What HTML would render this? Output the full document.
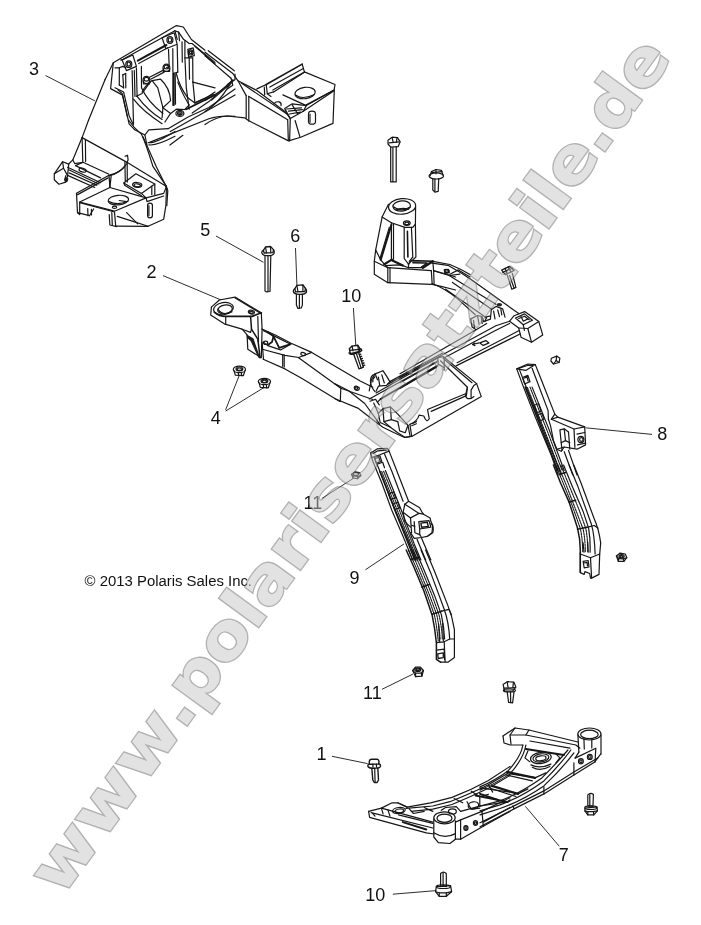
<!DOCTYPE html>
<html lang="de">
<head>
<meta charset="utf-8">
<title>Polaris Ersatzteile</title>
<style>
html,body{margin:0;padding:0;background:#fff;}
body{width:701px;height:925px;overflow:hidden;position:relative;font-family:"Liberation Sans",sans-serif;}
svg{position:absolute;left:0;top:0;display:block;filter:grayscale(1);}
.art{fill:none;stroke:#161616;stroke-width:1.2;stroke-linejoin:round;stroke-linecap:round;}
.lbl{font-family:"Liberation Sans",sans-serif;font-size:18px;fill:#111;}
.cpy{font-family:"Liberation Sans",sans-serif;font-size:14.9px;fill:#111;}
.ldr{stroke:#151515;stroke-width:.9;fill:none;}
.wm{font-family:"DejaVu Sans","Liberation Sans",sans-serif;font-weight:bold;font-size:64px;}
</style>
</head>
<body>
<svg id="dia" width="701" height="925" viewBox="0 0 701 925">
<rect width="701" height="925" fill="#fff"/>
<g id="art" class="art">
<path d="M 88.6 120 L 82.1 137.6 72.8 159.9 68.7 164"/>
<path d="M 82.1 137.6 L 126.6 162.1 166.5 186.4"/>
<path d="M 82.1 137.6 L 82.8 162.3"/>
<path d="M 85.4 140 L 85.6 161.5"/>
<path d="M 72.8 159.9 L 74.7 163.6 83 162.3 109 174.2"/>
<path d="M 75.6 165.6 L 83 162.3"/>
<path d="M 75.6 165.6 L 100.6 177.9"/>
<path d="M 125.1 156.3 L 127.5 155.2 128.1 159.9 126.8 162.7"/>
<path d="M 124.9 162.3 L 125.3 181.2"/>
<path d="M 127.2 162.3 L 127.3 182.1"/>
<path d="M 126.6 163.8 Q 120.1 173.4 109.2 175.6"/>
<path d="M 124.7 166.4 Q 119.2 172.9 110.3 174.9"/>
<path d="M 62.6 161.7 L 68.7 164.1 67.6 175.6 65.8 182.1 58.9 184.2 54.3 179.7 54.3 173.8 62.6 161.7 Z"/>
<path d="M 62.6 161.7 L 63.5 168.2 54.3 173.8"/>
<path d="M 63.5 168.2 L 67.6 175.6"/>
<path d="M 65.8 175.6 L 64.7 179.7 66.9 181.2"/>
<ellipse cx="66.3" cy="179.7" rx="1.3" ry="1.9" transform="rotate(20 66.3 179.7)"/>
<path d="M 67.6 167.3 L 100.6 182.7"/>
<path d="M 68.7 169.7 L 98.8 184"/>
<path d="M 68.2 175.6 L 94.7 187.5"/>
<path d="M 69.1 172.9 L 96.9 185.3"/>
<ellipse cx="82.6" cy="170.1" rx="3.7" ry="1.9" transform="rotate(15 82.6 170.1)"/>
<path d="M 76.5 193.3 L 109 175.3 109.9 187.1"/>
<path d="M 77.6 194.6 L 108.1 177.9"/>
<path d="M 76.5 193.3 L 77.5 212.7 79.7 214.6 79.7 202"/>
<path d="M 79.7 202 L 109.9 187.5 146.1 197.9 114.5 211.2 79.7 202 Z"/>
<path d="M 109.9 187.5 L 111.2 175.6"/>
<ellipse cx="118.4" cy="200.1" rx="10.2" ry="4.8" transform="rotate(-5 118.4 200.1)"/>
<path d="M 109 201.6 Q 117.3 205.7 127.9 201.2"/>
<path d="M 119.2 200.5 L 126.6 201.6"/>
<ellipse cx="114.5" cy="207.2" rx="2.2" ry="1.1"/>
<path d="M 79.7 202.7 L 114.5 212 115.7 226.1"/>
<path d="M 77.5 212.7 L 89.5 215.7"/>
<path d="M 87.7 208.6 L 88 215.7"/>
<path d="M 91.4 209.4 L 91.5 215"/>
<path d="M 89.5 215.7 L 93.6 209"/>
<path d="M 109.2 214.6 L 109.9 225 116.6 226.6"/>
<path d="M 111.8 212.7 L 112.3 225"/>
<path d="M 146.1 197.9 L 163.7 193.4 166.5 186.4"/>
<path d="M 166.5 186.4 L 165.9 205.3 163.7 219.2 148.1 226.3 116 226.1"/>
<path d="M 165.2 185.3 L 167.8 190.5 166.8 205.7"/>
<path d="M 147.6 205.3 Q 147.6 203.1 150 203.1 Q 152.4 203.1 152.4 205.3 L 152.4 215.5 Q 152.4 217.9 150 217.9 Q 147.6 217.9 147.6 215.5 Z"/>
<path d="M 148.9 205.7 L 148.9 215.5"/>
<path d="M 117.3 216.4 L 132.2 221.1 148.1 226.3"/>
<path d="M 126.6 212.7 L 137.7 223.9"/>
<path d="M 146.1 197.9 L 147 201.6 163.7 196"/>
<path d="M 123.8 183.1 L 135.9 173.8 154.8 184 141.4 193.4 123.8 183.1 Z"/>
<ellipse cx="137.2" cy="184.9" rx="4.6" ry="2.4" transform="rotate(5 137.2 184.9)"/>
<ellipse cx="137.2" cy="185.3" rx="3.2" ry="1.5" transform="rotate(5 137.2 185.3)"/>
<path d="M 154.8 184 L 154.8 194.6"/>
<path d="M 151.8 186 L 151.8 194.6"/>
<path d="M 141.4 193.4 L 146.1 197.9"/>
<path d="M 123.8 183.1 L 124.7 185.3 141.4 195.7"/>
<path d="M 128.5 120 Q 134 128.3 141.4 134.1 Q 146.1 144.1 152.9 166.4 L 166.5 186.4"/>
<path d="M 142.9 136.7 Q 148.9 149.7 156.3 166.7 L 167.4 189"/>
<path d="M 148.1 142.6 Q 154.4 144.1 175 131.5"/>
<path d="M 148.9 144.9 Q 156.3 146 175 136.3"/>
<path d="M 105 79.7 L 113.3 62.7 176.4 25.6 183.3 27 191.4 39.5 205 50.2"/>
<path d="M 113.3 62.7 L 110.6 88.6 122.6 95.1 129.1 123.9 134.7 129.8 144.9 135 146.9 145"/>
<path d="M 144.9 135 L 148.8 129.8 168.1 128.7"/>
<path d="M 235 74.2 L 235 79.7 227.4 84.5"/>
<path d="M 233 79.7 L 208.9 101.6 192.2 113.1"/>
<path d="M 229.3 84.9 L 211.6 100.1"/>
<path d="M 168.1 128.7 L 188.5 116.8 208.9 107.5 235 89"/>
<path d="M 170.3 131.6 L 235 94.9"/>
<path d="M 149.5 142.4 L 208.9 118.7 Q 220 115 235 116.4"/>
<path d="M 169.9 145 L 182.9 135.3"/>
<path d="M 120.7 60.1 L 123 59.2 174.9 30.7 178.6 32.1 183.5 39.3 189.2 43.5"/>
<path d="M 137.8 60.7 L 166.4 45" stroke-width="2"/>
<path d="M 138.7 63.5 L 167.8 47.8"/>
<path d="M 122.1 60 L 132.8 55 136.4 66.4 126.4 70.6 122.1 60 Z"/>
<ellipse cx="128.8" cy="64.2" rx="3" ry="3.3"/>
<ellipse cx="128.8" cy="64.2" rx="1.7" ry="2"/>
<path d="M 162.1 37.8 L 174.2 32.8 177.2 44.3 165.8 48.7 162.1 37.8 Z"/>
<ellipse cx="169.9" cy="40" rx="3" ry="3.3"/>
<ellipse cx="169.9" cy="40" rx="1.7" ry="2"/>
<path d="M 174.9 30.7 L 177.2 39.3"/>
<path d="M 178.6 32.1 L 179.5 40.7"/>
<path d="M 119.3 67.8 L 119.3 84.9"/>
<path d="M 122.8 74.9 L 123.6 87.8"/>
<path d="M 125.7 73.5 L 125.8 87.8"/>
<path d="M 119.3 67.8 L 122.8 66.4 125.7 67.8"/>
<path d="M 122.8 74.9 L 125.7 73.5"/>
<path d="M 115 67.8 L 119.3 67.8"/>
<path d="M 115 87.8 L 123.6 92 129.3 116.3 133.5 124.9"/>
<path d="M 117.9 89.9 L 122.1 93.5 127.3 116.3"/>
<path d="M 119.3 84.9 L 123.6 87.8"/>
<path d="M 132.1 70.6 L 132.8 96.3 133.5 123.4"/>
<path d="M 136.4 67.8 L 137.1 96.3"/>
<path d="M 141.4 66.4 L 141.5 87.8"/>
<path d="M 134.3 70.6 L 135 96.3"/>
<path d="M 168.5 49.3 L 169.2 66.4"/>
<path d="M 172.8 48.5 L 172.9 72.1"/>
<path d="M 177.2 45 L 177.8 72.1"/>
<path d="M 184.9 40.7 L 184.9 57.8 186.3 87.8 189.2 109.2"/>
<path d="M 182 41.8 L 182.3 62.1"/>
<path d="M 192.7 57.8 L 192.9 82.1"/>
<path d="M 189.2 57.8 L 189.5 79.2"/>
<ellipse cx="146.4" cy="79.9" rx="3.4" ry="3.6"/>
<ellipse cx="146.4" cy="79.2" rx="2.3" ry="1.9"/>
<path d="M 143.2 80.9 L 143.5 83.8 149.5 83.8 149.8 80.9"/>
<ellipse cx="166.4" cy="67.8" rx="3.4" ry="3.6"/>
<ellipse cx="166.4" cy="67.1" rx="2.3" ry="1.9"/>
<path d="M 163.2 68.7 L 163.5 71.5 169.5 71.5 169.8 68.7"/>
<path d="M 149.5 77.2 L 163.5 70.1"/>
<path d="M 150.7 79.2 L 164.2 72.1"/>
<path d="M 142.1 92 Q 145.7 84.9 152.1 80.6 L 160.6 79.2 Q 169.9 87.8 170.6 100.6 L 162.9 107.7 L 162.1 117.7"/>
<path d="M 150.1 82.1 L 142.1 93.5 136.4 96.3"/>
<path d="M 152.1 80.6 L 157.8 87.8 162.9 107.7"/>
<path d="M 173.5 73.5 L 173.5 104.9" stroke-width="2.4"/>
<path d="M 175.2 74.2 L 175.5 104.2"/>
<path d="M 177.8 72.1 L 173.5 73.5"/>
<path d="M 169.2 66.4 L 166.4 67.8"/>
<path d="M 176.3 73.5 Q 179.2 86.3 187.8 97.8 L 194.9 102.9 L 206.3 97.8 L 215 92"/>
<path d="M 177.8 82.1 Q 183.5 96.3 189.2 104.9 L 184.9 109.5"/>
<path d="M 192.9 82.1 L 215 87.8"/>
<path d="M 192.9 82.1 L 194.9 102.9"/>
<path d="M 194.9 102.9 L 213.4 94.3"/>
<path d="M 184.9 57.8 L 192.7 57.8"/>
<path d="M 133.5 99.2 Q 143.5 112 162.1 123.7"/>
<path d="M 137.1 96.3 Q 147.8 110.6 162.1 119.4"/>
<path d="M 141.5 87.8 Q 147.8 102 162.9 113.4"/>
<path d="M 162.9 107.7 L 170.6 113.4 164.9 122"/>
<path d="M 170.6 113.4 L 176.3 109.2 184.9 109.5"/>
<ellipse cx="179.9" cy="113.4" rx="4" ry="3.1"/>
<ellipse cx="179.9" cy="113.4" rx="2.3" ry="1.7"/>
<ellipse cx="179.9" cy="113.7" rx="1.1" ry="0.9"/>
<path d="M 189.2 43.5 L 192 43.5 215 62.4"/>
<path d="M 194.9 46.4 L 215 63.8"/>
<ellipse cx="190.6" cy="52.4" rx="2.3" ry="2.6"/>
<path d="M 187.8 49.3 L 193.2 47.8 194.3 55.7 188.6 57.2 187.8 49.3 Z"/>
<ellipse cx="190.6" cy="52.4" rx="1.1" ry="1.3"/>
<path d="M 186.3 109.2 L 215 94.9" stroke-width="1.8"/>
<path d="M 205 52.2 L 232.8 73.4 238 80.8 256.2 90.1 285.9 112.3 290.3 118.6"/>
<path d="M 208.3 50.7 L 234.3 70.8"/>
<path d="M 205 55.9 L 231 78.2"/>
<path d="M 205 111.6 Q 218 103.8 228.2 87.1 L 232.8 80.8"/>
<path d="M 205 100.4 Q 221.7 91.7 231.9 81.2"/>
<path d="M 205 124.6 Q 216.1 116.8 227.3 116 L 244.9 117.9 L 248.8 120.8"/>
<path d="M 231 78.2 L 232.8 85.2 227.3 88.9"/>
<path d="M 246.2 95.6 L 246.2 117.9"/>
<path d="M 248.8 96.4 L 248.8 120.8"/>
<path d="M 238 80.8 L 246.2 95.6"/>
<path d="M 248.8 96.4 L 287.7 119.7"/>
<path d="M 241.3 83 L 287.7 114.5"/>
<path d="M 248.8 120.8 L 288.5 140.9 300.7 137.2 333 123.4 334.3 90.1"/>
<path d="M 266.2 84.5 L 302.2 64.1" stroke-width="1.6"/>
<path d="M 269.9 87.1 L 303.3 68.5"/>
<path d="M 272.9 90.1 L 304.4 71.9"/>
<path d="M 302.2 64.1 L 304.4 71.9 335 84.5 334.1 90.1 306.3 105.6 282.9 94.9"/>
<path d="M 273.6 91.9 L 304.4 72.3"/>
<path d="M 306.3 104.9 L 334.1 90.1"/>
<ellipse cx="305.1" cy="93" rx="10.2" ry="5.6" transform="rotate(-8 305.1 93)"/>
<path d="M 295.9 95.2 Q 303.3 100.1 314.4 94.5"/>
<path d="M 256.9 88.9 L 266.2 84.5 267.3 93.8 271 96.4"/>
<path d="M 264.3 87.1 L 264.7 94.9"/>
<path d="M 267.3 93.8 L 273.6 91.9"/>
<path d="M 274 103.8 Q 275.5 101.2 279.2 101.9 Q 281.8 103 281 105.6"/>
<path d="M 284.7 108.6 L 292.2 103.8 306.3 105.6 303.3 111.2 290.3 118.6 284.7 108.6 Z"/>
<path d="M 286.6 109 L 301.4 107.9"/>
<path d="M 288.5 111.2 L 302.4 109.7"/>
<path d="M 289.4 114 L 300.5 112.1"/>
<path d="M 292.2 104.9 L 297.7 114"/>
<path d="M 290.3 118.6 L 289.6 140.9"/>
<path d="M 287.7 119.7 L 288.3 140.1"/>
<path d="M 303.3 111.2 L 333.3 91.2"/>
<path d="M 295.1 120.5 L 300 137.2"/>
<path d="M 308.5 114 Q 308.5 111.2 312 111.2 Q 315.5 111.2 315.5 114 L 315.5 121.4 Q 315.5 124.2 312 124.2 Q 308.5 124.2 308.5 121.4 Z"/>
<path d="M 310 114 L 310 122.3"/>
<path d="M 105 79.7 L 88.6 120"/>
<path d="M 211.4 307.1 L 219.3 300 235 297.1 261.3 312.8 262.1 329.2"/>
<path d="M 235.2 298.1 L 260.9 313.5"/>
<path d="M 211.4 307.1 L 210.7 315 225 324.2 242.1 329.2 247.1 334.9 247.8 349.2 261.3 357.8 262.1 329.2"/>
<ellipse cx="223.5" cy="308.6" rx="10" ry="6" transform="rotate(-10 223.5 308.6)"/>
<ellipse cx="225" cy="309.3" rx="7.4" ry="4.3" transform="rotate(-10 225 309.3)"/>
<path d="M 218.1 309.3 Q 222.8 316.4 232.1 311.8"/>
<path d="M 225.7 316.4 L 225.7 324.1"/>
<path d="M 214.3 312.1 Q 219.3 316.4 225.7 316.4 L 252.1 316.4 L 261.3 312.8" stroke-width="1.7"/>
<ellipse cx="251.4" cy="312.1" rx="3.1" ry="1.9" transform="rotate(12 251.4 312.1)"/>
<ellipse cx="251.4" cy="312.3" rx="1.9" ry="1" transform="rotate(12 251.4 312.3)"/>
<path d="M 250.6 316.4 L 251.5 329.2 257.8 339.2 260.1 357.8" stroke-width="1.5"/>
<path d="M 257.8 316.4 L 258.5 342.1"/>
<path d="M 246.4 334.2 L 253.5 338.5 L 260.1 357.8 L 258.4 357.8 L 250.6 340.9 L 246.9 337.8 Z" fill="#1c1c1c" stroke="none"/>
<path d="M 242.1 329.2 L 250.6 332.4 251.5 329.2"/>
<path d="M 263.5 330.7 L 272 334.9 290.6 344.2 280.6 349.9 267.8 345.6 263.5 342.1"/>
<path d="M 267.8 332.1 L 273.5 336.4 272 342.1 267.8 344.9" stroke-width="1.8"/>
<path d="M 273.5 336.4 L 279.2 347.8 290.6 344.2" stroke-width="1.8"/>
<ellipse cx="265.6" cy="342.8" rx="2.1" ry="1.7"/>
<path d="M 262.1 342.1 L 263.5 359.2"/>
<path d="M 284.2 354.9 L 284.2 367"/>
<path d="M 282.7 354.6 L 282.7 366.3"/>
<path d="M 262 329.1 L 275.3 335 291.1 343.2 311.7 352.4 339.8 368.9 360.2 381 372.8 387.3"/>
<path d="M 263.2 359.2 L 285 368.9 302 378.6 339.8 401.4"/>
<path d="M 263.2 349.5 L 285 355.3 298.6 357.5 311.7 352.4"/>
<path d="M 298.6 357.8 L 340.8 388.3 372.8 399.5"/>
<path d="M 340.8 388.3 L 340.3 401.4"/>
<ellipse cx="303.2" cy="354.1" rx="2.4" ry="1.5" transform="rotate(15 303.2 354.1)"/>
<ellipse cx="357.1" cy="388.6" rx="2.2" ry="1.7"/>
<path d="M 375 374.2 Q 370.4 375.2 370.4 381.5 Q 370.9 386.9 375 391.7"/>
<path d="M 375 376.7 Q 372.3 378.4 372.8 382"/>
<ellipse cx="239.4" cy="369.4" rx="6.1" ry="3.2"/>
<ellipse cx="239.4" cy="368.9" rx="3.4" ry="1.9"/>
<ellipse cx="239.4" cy="369.2" rx="2.2" ry="1.2"/>
<path d="M 234.1 370.6 L 235.3 375.2 243.3 375.7 245 370.6"/>
<path d="M 238.2 372.3 L 238.7 375.7"/>
<path d="M 241.4 372.3 L 241.6 375.7"/>
<ellipse cx="264.4" cy="381.5" rx="6.1" ry="3.2"/>
<ellipse cx="264.4" cy="381" rx="3.4" ry="1.9"/>
<ellipse cx="264.4" cy="381.3" rx="2.2" ry="1.2"/>
<path d="M 259.1 382.7 L 260.3 387.3 268.3 387.8 270 382.7"/>
<path d="M 263.2 384.4 L 263.7 387.8"/>
<path d="M 266.4 384.4 L 266.6 387.8"/>
<path d="M 388 140.2 L 392.1 137.2 397.5 137.7 400.2 141.8 398.1 146.7 390.7 147.2 388 144 388 140.2 Z"/>
<path d="M 388.9 142.9 L 399.2 141.8"/>
<path d="M 392.1 137.7 L 393.2 142.3"/>
<path d="M 397 138 L 396.4 142.1"/>
<path d="M 390.7 147.2 L 390.7 181.9 396.2 181.9 396.2 146.7"/>
<path d="M 392.9 147.8 L 392.9 181.4"/>
<ellipse cx="436.3" cy="176" rx="7.3" ry="3"/>
<path d="M 431.4 171.6 L 436 169.5 441.4 170.3 443.1 175.4"/>
<path d="M 431.4 171.6 L 430 176"/>
<path d="M 436 169.5 L 436 173.8"/>
<path d="M 431.7 172.7 L 442 171.6"/>
<path d="M 432.8 178.7 L 432.8 190 434.9 192.2 438.2 191.4 438.7 178.7"/>
<path d="M 434.9 179.2 L 434.9 191.1"/>
<ellipse cx="402.1" cy="206.4" rx="13.6" ry="7.8" transform="rotate(-5 402.1 206.4)"/>
<ellipse cx="401.7" cy="206" rx="8.8" ry="5.1" transform="rotate(-5 401.7 206)"/>
<path d="M 393.5 206.8 Q 400.7 212.8 410.2 207.1"/>
<path d="M 396.4 210 Q 401.4 207.1 408.5 209.3"/>
<path d="M 388.5 204.3 L 382.1 217.1 375.7 249.9 374.3 261.3 374.3 274.2 387.8 282.7 431.3 284.4"/>
<path d="M 382.1 217.1 L 391.4 222.8 405 227.4 412.8 227.4 415.4 224.2 415.6 207.1"/>
<path d="M 391.4 222.8 L 391.4 259.9"/>
<path d="M 393.5 223.7 L 393.5 259"/>
<path d="M 391.4 224.8 L 380.7 259.9" stroke-width="2"/>
<path d="M 389.3 227.4 L 380 258.5"/>
<path d="M 375.7 249.9 L 380.7 259.9 384.3 264.2"/>
<path d="M 374.3 261.3 L 387.8 267.7 431.3 270.6"/>
<path d="M 387.8 267.7 L 387.8 282.7"/>
<path d="M 390 268.2 L 390 282.7"/>
<ellipse cx="406.8" cy="223.1" rx="3.4" ry="2.3"/>
<ellipse cx="406.8" cy="223.4" rx="2" ry="1.3"/>
<path d="M 404.2 227.4 L 404.2 258.5 408.5 264.2 408.5 267.7"/>
<path d="M 411.4 227.4 L 412.8 257 409.2 261.3"/>
<path d="M 407.4 231.4 L 407.9 257" stroke-width="1.6"/>
<path d="M 415.4 224.2 L 415.9 257 412.8 259.9"/>
<path d="M 384.3 264.2 L 391.4 259.9 402.8 265.6" stroke-width="2.2"/>
<path d="M 384.3 264.2 L 387.8 267.7"/>
<path d="M 391.4 259.9 L 393.5 259"/>
<path d="M 385.7 265.6 L 398.5 264.9 402.8 265.6 408.5 267.7"/>
<path d="M 408.5 264.2 L 411.4 260.6 432.8 261.3" stroke-width="1.6"/>
<path d="M 432.8 261.3 L 422.8 267.7" stroke-width="2.4"/>
<path d="M 408.5 267.7 L 422.8 267.7"/>
<path d="M 412.8 262.8 L 427.1 263 421.4 267" stroke-width="1.4"/>
<path d="M 431.3 270.6 L 432.2 284.4"/>
<path d="M 433.6 270.7 L 434.1 283.6"/>
<path d="M 432.8 261.3 L 433.6 270.7"/>
<path d="M 432.8 261.3 L 449.9 264.5 Q 461.3 269.2 470 274.5"/>
<path d="M 433.6 270.7 L 444.2 273.5 L 455.6 277"/>
<path d="M 432.2 284.4 Q 444.2 287 455.6 290"/>
<ellipse cx="446.5" cy="271" rx="2" ry="1.4"/>
<path d="M 444.2 269.9 L 448.5 269.3 449.3 272.7 445 273.3 Z"/>
<path d="M 449.9 274.2 L 458.4 269.9 470 277"/>
<path d="M 432 263.2 L 447.9 265.3 Q 461.6 272.8 475.3 282.4 L 500.4 300.6 L 518.7 313.4"/>
<path d="M 432 283.5 Q 445.6 288.8 457.1 298.4 L 475.3 314.8"/>
<path d="M 434.2 271 L 449.1 275.5 459.8 274.2"/>
<path d="M 449.1 275.5 L 495.9 304.3"/>
<path d="M 452.5 282.4 L 491.3 308.9"/>
<path d="M 445.6 289.2 L 486.7 318"/>
<ellipse cx="446.8" cy="271" rx="2.3" ry="1.4" transform="rotate(15 446.8 271)"/>
<path d="M 509.6 321.2 L 514.1 315.7 524.6 311.6 538.8 321.6 542.7 334.9 531.5 342.2 521 337.2 518.7 328 509.6 321.2 Z"/>
<path d="M 515.5 318 L 524.6 313.9 532.4 320.3 523.3 324.8 515.5 318 Z"/>
<path d="M 518.7 318.5 L 524.6 316.2 529.2 319.8"/>
<path d="M 523.3 324.8 L 524.4 330.3"/>
<path d="M 538.8 321.6 L 527.8 328.5 518.7 328"/>
<path d="M 527.8 328.5 L 531.5 342.2"/>
<path d="M 521 316.6 L 523.3 321.2 527.8 318.9"/>
<path d="M 400 373.7 L 475.3 330.3 486.7 323.5"/>
<path d="M 400 377.3 L 438.8 356.8 495.9 325.8 509.6 321.2"/>
<path d="M 443.4 358.2 L 495.9 330.3 509.6 323.5"/>
<path d="M 456.1 365.9 L 520.1 334"/>
<path d="M 457.1 362.7 L 518.7 330.8"/>
<path d="M 400 382.8 L 436.5 362.3"/>
<path d="M 400 388.5 L 436.5 367.3"/>
<path d="M 470.8 318.9 L 477.6 315.5 482.2 316.6 483.5 321.6 490.4 319.1 491.3 309.8 495.9 306.4 502.7 308.9 505 317.1"/>
<path d="M 470.8 318.9 L 472.1 327.1 475.8 329.4"/>
<path d="M 477.6 316.2 L 479 323.9"/>
<path d="M 473.5 320.3 L 474.4 327.6"/>
<path d="M 481.3 317.1 L 482.2 323.5"/>
<path d="M 484.9 321.6 L 486.7 316.6 490.4 316.2"/>
<path d="M 493.6 311.1 L 495 318.9"/>
<path d="M 497.7 309.8 L 499.5 316.6"/>
<path d="M 500.9 309.3 L 501.8 314.8"/>
<ellipse cx="499.3" cy="304.8" rx="2.8" ry="1.7" fill="#222" stroke="none"/>
<path d="M 479.9 342.9 L 485.8 340.6 489 342.9 483.3 345.4 479.9 342.9 Z"/>
<path d="M 472.6 344.5 L 479 342.9"/>
<path d="M 472.6 344.5 L 474.9 343.1"/>
<path d="M 472.6 344.5 L 474.9 345.6"/>
<path d="M 501.6 270.1 L 509.6 266.4 514.1 270.5 505.4 274.6 501.6 270.1 Z"/>
<path d="M 502.7 272.3 L 512.3 268.2"/>
<path d="M 505 268.2 L 507.3 273.7"/>
<path d="M 508.2 266.9 L 510.9 271.9"/>
<path d="M 507.3 275.1 L 511.8 289.2 515.9 287.4 512.3 273.3"/>
<path d="M 509.6 275.5 L 514.1 288.3"/>
<path d="M 335 383.9 L 348.7 390.8 364.7 403.5 379.7 424.1"/>
<path d="M 335 398.7 L 357.8 408.1 L 373.8 420.4 L 382.9 427.3 Q 396.6 434.1 404.6 437.5 L 410.3 436.4"/>
<ellipse cx="356" cy="387.8" rx="1.8" ry="1.6"/>
<path d="M 369.2 390.8 L 371.5 379.3 375.2 373.9 382.9 370.7 386.6 376.1 389.8 381.6 386.6 385.3 378.4 386.2 376.1 391.2"/>
<path d="M 378.4 377.1 L 379.7 385.3"/>
<path d="M 381.8 374.8 L 384.3 383"/>
<path d="M 375.2 373.9 L 377.5 379.8"/>
<path d="M 376.1 393 L 440 356.5"/>
<path d="M 369.2 399 L 376.1 395.3 437.7 361.1"/>
<path d="M 380.6 399 L 437.7 365.6" stroke-width="1.8"/>
<path d="M 377.5 402.2 L 380.6 399"/>
<path d="M 389.8 381.6 L 442.3 353.3"/>
<path d="M 387.5 384.4 L 440 356.5"/>
<path d="M 437.7 357.6 L 443.3 356.7 476.6 383.6 481.3 396.6 411.7 436.4 405.2 437.4"/>
<path d="M 443.3 358.5 L 472 382.7"/>
<path d="M 440.5 360.8 L 467.4 387.3 466.4 395.6"/>
<path d="M 444.2 360.4 L 444.2 369.7"/>
<path d="M 437.7 357.6 L 438.2 364.1 444.2 367.8"/>
<path d="M 467.4 387.3 L 465.5 395.6 Q 466.4 399.7 471.1 398.4 L 471.1 390.1 L 473.9 385.4 L 476.6 383.6"/>
<path d="M 465.5 393.8 L 427.5 409.5 L 429.3 418.8 Q 426.6 423.5 423.8 416 L 419.1 415.1 Q 417.3 421.6 409.9 424.4"/>
<path d="M 409.9 424.4 L 411.7 436.4"/>
<path d="M 466.4 395.6 L 431.2 411.4"/>
<path d="M 471.1 398.4 L 473.9 396.6"/>
<path d="M 412.7 423.5 L 416.4 421.6"/>
<path d="M 411.7 425.7 L 416.4 423.8"/>
<path d="M 378.3 413.3 L 383 408.6 390.4 406.8 397.8 414.2 408 425.3 409.9 435.5"/>
<path d="M 378.3 413.3 L 380.2 422.5 390.4 427.2 397.8 432.7 405.2 437.4"/>
<path d="M 383 408.6 L 383.9 421.6 390.4 427.2"/>
<path d="M 390.4 406.8 L 391.3 419.7 397.8 421.6"/>
<path d="M 383.9 421.6 L 391.3 419.7"/>
<path d="M 397.8 421.6 L 399.7 430.9 405.2 432.7 408 425.3"/>
<path d="M 373.7 403.1 L 378.3 413.3"/>
<path d="M 370 401.2 L 375.6 399.3 379.3 404.9"/>
<path d="M 349.3 348.7 L 352.1 346.1 357.8 345.3 360 348.7 359.3 351.4 350.3 353.7 349.3 348.7 Z" stroke-width="1.4"/>
<path d="M 352.1 346.1 L 353 350.8"/>
<path d="M 357.8 345.3 L 358.5 350.1"/>
<path d="M 349.6 350.3 L 359.7 349.3"/>
<path d="M 349.1 352.7 Q 349.3 354.8 353.5 354 Q 360 352.5 361.8 350.3 Q 361.5 348.8 360 348.7" stroke-width="1.4"/>
<path d="M 353.7 354.3 L 359 368.9 363.5 367.2 358.7 352.7" stroke-width="1.3"/>
<path d="M 356.4 353.5 L 361.2 368.1"/>
<path d="M 359.3 354.6 L 360.8 354.1" stroke-width="1.4"/>
<path d="M 360 356.8 L 361.6 356.3" stroke-width="1.4"/>
<path d="M 360.8 359 L 362.4 358.5" stroke-width="1.4"/>
<path d="M 361.6 361.2 L 363.2 360.7" stroke-width="1.4"/>
<path d="M 362.4 363.5 L 364 363" stroke-width="1.4"/>
<path d="M 363.2 365.7 L 364.7 365.2" stroke-width="1.4"/>
<path d="M 516.7 368.9 L 527.8 364 535.3 364.6 525.7 370.4 516.7 368.9 Z"/>
<path d="M 519.3 368.3 L 528.2 365.3 532.5 365.7"/>
<path d="M 516.7 368.9 L 523.5 387.1 535.3 417.1 551.4 455.6 558.2 475"/>
<path d="M 519.7 370.4 L 526.7 388.2 553.5 455.6 561.2 475"/>
<path d="M 525.2 387.1 L 542.8 432 557.8 470.5" stroke-width="1.6"/>
<path d="M 532.1 387.1 L 549.2 429.9 564.2 470.5"/>
<path d="M 527.4 387.5 L 544.9 431.4 559.9 470.5" stroke-width="1.1" stroke-dasharray="1.9 0.9"/>
<path d="M 530 387.1 L 547.1 430.5 562.1 470.5" stroke-width="1.1" stroke-dasharray="1.9 0.9"/>
<path d="M 535.3 364.6 L 541.7 380.7 554.8 414.1 551.4 419.2"/>
<path d="M 532.1 368.3 L 548.1 410.6 548.4 419.2"/>
<path d="M 522.5 377.5 L 527.8 375.3 530 381.7 524.6 383.9 522.5 377.5 Z"/>
<path d="M 524 378.1 L 527 377 528.2 381.1"/>
<path d="M 534.2 405.3 L 538.5 403.8 541.1 411.1 536.8 412.8 Z"/>
<path d="M 537.4 414.9 L 541.9 413.2 544.1 419.2 539.8 420.9 Z"/>
<path d="M 551.4 419.2 L 557.8 417.1 584.7 426.9 585.6 444.9 577 449.2 564.2 447 561.2 451.3 556.9 449.2 553.5 440.6 550.5 425.6 548.4 419.2"/>
<path d="M 554.8 414.1 L 557.8 417.1"/>
<path d="M 551.4 419.2 L 574 429 584.7 426.9"/>
<path d="M 574 429 L 574.9 447.4"/>
<path d="M 559.9 429.9 L 564.2 428.8 565.5 440.6 561.2 442.7 559.9 429.9 Z"/>
<path d="M 568.5 432 L 569.8 449.2"/>
<path d="M 565.5 440.6 L 569.8 442.7"/>
<path d="M 564.2 428.8 L 568.5 432"/>
<ellipse cx="580.9" cy="439.5" rx="3" ry="3.2"/>
<ellipse cx="581.3" cy="439.5" rx="1.7" ry="1.9"/>
<path d="M 577 434.2 L 584.7 432.5"/>
<path d="M 577.5 444.9 L 585.2 443.2"/>
<path d="M 556.9 449.2 L 564.2 447"/>
<path d="M 561.2 442.7 L 562.1 450.4"/>
<path d="M 568.5 450.4 L 577 475"/>
<path d="M 564.2 451.7 L 572.8 475"/>
<path d="M 551.4 358.2 L 556.7 356.1 559.9 358.2 559.1 362.5 553.5 364 550.9 361 551.4 358.2 Z"/>
<path d="M 556.7 356.1 L 556.1 360.6 559.1 362.5"/>
<path d="M 556.1 360.6 L 553.5 364"/>
<path d="M 573.8 465 L 581.2 483.5 L 594.2 518.8 Q 598.8 529 600.7 542.9 L 599.7 554 L 599 574.4 L 591.6 578.1"/>
<path d="M 569.1 465 L 577.5 485.4 L 591.4 524.3 Q 594.6 535.5 595.1 554"/>
<path d="M 553.4 465 L 560.8 483.5 L 569.1 502.1 L 577.5 528.1 Q 580.5 539.2 580.3 552.2 L 580.3 572.6" stroke-width="1.5"/>
<path d="M 563.6 465 L 571.9 485.4 L 583.1 511.4 L 588.6 528.1 Q 590.5 539.2 590.1 552.2"/>
<path d="M 558 465 L 566.4 485.4 L 575.6 509.5 L 583.1 529 Q 585.3 539.2 585.3 552.2" stroke-width="1.1" stroke-dasharray="1.9 0.9"/>
<path d="M 555.6 465 L 563.8 484.5 L 572.3 505.8 L 580.3 528.4 Q 582.7 539.2 582.7 552.2" stroke-width="1.1" stroke-dasharray="1.9 0.9"/>
<path d="M 560.8 465 L 569.1 485.4 L 579.3 510.4 L 585.8 528.4 Q 587.9 539.2 587.7 552.2" stroke-width="1.1" stroke-dasharray="1.9 0.9"/>
<path d="M 559.9 474.3 L 565.6 472.4" stroke-width="1.6"/>
<path d="M 569.1 502.1 L 575.6 500.2" stroke-width="1.6"/>
<path d="M 577.5 529.2 L 586.8 527.3" stroke-width="1.6"/>
<path d="M 586.8 527.3 L 594.2 525.5 597.9 528.1"/>
<path d="M 580.3 552.2 L 580.3 572.6 584.2 574.4 584.9 571.6 589.7 573.5 590.5 578.1"/>
<path d="M 590.5 557.7 L 591.6 578.1"/>
<path d="M 580.3 554 L 590.5 557.7 599.7 554"/>
<path d="M 583.1 561.4 L 588.2 560.5 589 567 584.2 567.9 583.1 561.4 Z"/>
<path d="M 584.5 562.9 L 587.1 562.4 587.5 565.9"/>
<path d="M 583.1 542.9 L 584 552.2"/>
<path d="M 587.7 542 L 588.2 552.2"/>
<path d="M 616.4 555.9 L 620.1 553.1 625.3 554 626.8 557.7 623.9 561.4 618.3 561.4 616.4 555.9 Z"/>
<ellipse cx="621.6" cy="556.2" rx="2.6" ry="1.7"/>
<ellipse cx="621.6" cy="556.2" rx="1.5" ry="0.9"/>
<path d="M 618.3 561.4 L 618.7 558.7 616.4 555.9"/>
<path d="M 623.9 561.4 L 623.5 558.8 626.8 557.7"/>
<path d="M 618.7 558.7 L 623.5 558.8"/>
<path d="M 370.6 453 L 377.1 448.9 387.3 448.3 389.1 451.1 379.9 454.8 371.5 457.6"/>
<path d="M 373 453.4 L 378 450.8 386.4 450.2"/>
<path d="M 370.6 453 L 372.5 460.4 381.7 482.7 391.9 510.5 403.1 536.4 412.7 560"/>
<path d="M 374.3 457.6 L 384.5 482.7 395.6 512.3 406 538.3 414.6 560"/>
<path d="M 389.1 451.1 L 395.6 467.8 408.6 501.2 404.9 504.2"/>
<path d="M 384.5 453.9 L 391.9 471.5 403.1 501.2"/>
<path d="M 379.9 471.5 L 393.8 506.8 409.5 543.9 416 560" stroke-width="1.6"/>
<path d="M 385.4 470.6 L 399.3 504.9 414.2 543.9 420.9 560"/>
<path d="M 381.7 471.5 L 395.6 506.2 411 543.9 417.5 560" stroke-width="1.1" stroke-dasharray="1.9 0.9"/>
<path d="M 383.6 471.2 L 397.5 505.5 412.7 543.9 419.2 560" stroke-width="1.1" stroke-dasharray="1.9 0.9"/>
<path d="M 374.3 457.6 L 379.9 455.8 381.7 461.3 376.2 463.2 374.3 457.6 Z"/>
<path d="M 375.6 458.5 L 378.9 457.4 380.1 460.8"/>
<path d="M 377.1 464.1 L 382.7 462.3 384.5 467.8"/>
<path d="M 388.6 493.8 L 393.8 491.9 395.6 497.9 390.4 499.3 Z"/>
<path d="M 392.9 504 L 397.9 502.1 399.7 507.9 394.7 509.5 Z"/>
<path d="M 408.6 501.2 L 419.7 507.7 421.6 511.6 423.5 514.2 430.1 517.9 430.9 521.6 432.7 525.3 432 532.7 427.2 536.4 421.6 537.5 414.2 538.3 410.5 532.7"/>
<path d="M 404.9 504.2 L 419 513.4 423.5 514.2"/>
<path d="M 404.9 504.2 L 403.1 512.3 410.5 517.9 419 513.4"/>
<path d="M 410.5 517.9 L 411.6 532.7"/>
<path d="M 418.8 521.6 L 429 520.7 430.9 527.2 419.7 529 418.8 521.6 Z"/>
<path d="M 420.9 523.1 L 427.2 522.3 428.3 526.4 421.6 527.2 Z" stroke-width="1.4"/>
<path d="M 430.9 523.5 Q 434.6 526.8 432.7 532.7 L 428.3 535.7"/>
<path d="M 414.2 521.6 L 414.9 532.7 419.7 534.6 419.7 529"/>
<path d="M 411.6 525.3 L 414.9 526.4"/>
<path d="M 419.7 534.6 L 421.6 537.5"/>
<path d="M 403.1 512.3 L 404.9 521.6 410.5 527.2"/>
<path d="M 421.6 538.3 L 430.9 560"/>
<path d="M 417.1 539.4 L 425.7 560"/>
<path d="M 351.5 474.3 L 354.8 471.9 359.5 472.5 360.8 475.6 357.6 478.6 353 478 351.5 474.3 Z"/>
<ellipse cx="355.9" cy="473.9" rx="2.6" ry="1.5"/>
<path d="M 353 478 L 353.4 476 351.5 474.3"/>
<path d="M 357.6 478.6 L 357.8 476.3 360.8 475.6"/>
<path d="M 353.4 476 L 357.8 476.3"/>
<path d="M 425.6 550 L 434.9 572.3 L 447.9 605.6 Q 452.5 616.8 454.4 629.7 L 454.4 657.6 L 447.9 662.2 L 440.5 662.2"/>
<path d="M 421 550 L 431.2 574.1 L 444.2 609.3 Q 448.8 622.3 449.7 639"/>
<path d="M 406.2 550 L 414.5 568.5 L 423.8 590.8 L 432.1 614.9 Q 434.9 627.9 436.4 642.7 L 436.4 659.4 L 440.5 662.2" stroke-width="1.5"/>
<path d="M 415.4 550 L 423.8 569.5 L 434.9 596.4 L 441.4 614.9 Q 444.2 627.9 444.6 639"/>
<path d="M 410.8 550 L 419.1 569.5 L 429.3 594.5 L 436.8 614.9 Q 439.5 627.9 440.1 639" stroke-width="1.1" stroke-dasharray="1.9 0.9"/>
<path d="M 408.4 550 L 416.7 568.9 L 426.6 592.7 L 434.4 614.9 Q 437.1 627.9 438.2 640.9" stroke-width="1.1" stroke-dasharray="1.9 0.9"/>
<path d="M 413 550 L 421.6 569.5 L 432.1 595.4 L 439 614.9 Q 442 627.9 442.3 639" stroke-width="1.1" stroke-dasharray="1.9 0.9"/>
<path d="M 411.7 559.3 L 419.3 557.4" stroke-width="1.6"/>
<path d="M 421.9 587.1 L 429.3 584.5" stroke-width="1.6"/>
<path d="M 432.1 614.2 L 441.6 611.2" stroke-width="1.6"/>
<path d="M 441.6 611.2 L 449 609.3 451.6 614.9"/>
<path d="M 436.4 642.7 L 444.2 641.8 449.7 639 454.4 639"/>
<path d="M 436.4 650.1 L 444.2 649.2 444.6 659.4"/>
<path d="M 437.7 653.9 L 443.3 652.9 443.3 657.6 438.2 658.5 437.7 653.9 Z" stroke-width="1.3"/>
<path d="M 444.2 641.8 L 445.1 661.6"/>
<path d="M 438.6 624.2 L 439.7 641.8"/>
<path d="M 442.7 623.3 L 443.4 641.2"/>
<path d="M 412.7 670.5 L 415.4 667.2 420.4 667.2 423.4 670.5 421.9 676.1 415.6 676.7 412.7 670.5 Z"/>
<ellipse cx="417.8" cy="669.8" rx="3" ry="1.7"/>
<ellipse cx="417.8" cy="669.8" rx="1.7" ry="0.9"/>
<path d="M 415.6 676.7 L 415.6 673.1 412.7 670.5"/>
<path d="M 421.9 676.1 L 421.2 673.1 423.4 670.5"/>
<path d="M 415.6 673.1 L 421.2 673.1"/>
<path d="M 368.6 811.4 L 381.4 808.1 392.1 802.8 397.7 802.8 407.1 807.1"/>
<path d="M 368.6 811.4 L 369.6 817.3 426.3 832.8 434 834"/>
<path d="M 371.1 812.6 L 432.8 828"/>
<path d="M 381.4 808.1 L 432.8 822.1"/>
<path d="M 381.4 808.1 L 383.1 813.9"/>
<path d="M 397.7 802.8 L 407.1 807.1 L 430.6 802.8 L 452 797.4 Q 471.3 790 488.4 780.5 L 510 766.4"/>
<path d="M 406 808.4 L 432.8 806 L 449.9 801.7 Q 471.3 793.4 488.4 784.8 L 510 772"/>
<path d="M 411.4 811.4 L 432.8 809.2 L 452 804.5 Q 471.3 796.4 488.4 788.2 L 510 775.4"/>
<ellipse cx="398.9" cy="810.5" rx="6.4" ry="3" transform="rotate(-8 398.9 810.5)"/>
<ellipse cx="399.4" cy="810.9" rx="4.3" ry="1.9" transform="rotate(-8 399.4 810.9)"/>
<path d="M 402.8 822.1 L 426.3 829.5" stroke-width="2"/>
<path d="M 398.5 814.8 L 432.8 823.3"/>
<path d="M 372.8 813.5 L 375 816.1"/>
<path d="M 387.8 809.6 L 390 816.1"/>
<path d="M 409.2 808.8 L 413.5 813.5 424.2 811.4"/>
<path d="M 424.2 807.5 L 432.8 811.4"/>
<ellipse cx="444.5" cy="817.8" rx="10.7" ry="6"/>
<ellipse cx="444.5" cy="818.2" rx="7.5" ry="4.1"/>
<path d="M 437.5 817.3 Q 444.5 811.4 451.6 817.3 Q 449.9 815.2 444.5 814.8 Q 439.2 815.2 437.5 817.3 Z" fill="#222" stroke="none"/>
<path d="M 433.8 819.1 L 433.8 837 438.3 842.6 449.9 843.5 455.4 839.2 455.4 820.8"/>
<path d="M 433.8 832.8 Q 444.5 839.6 455.4 833.6"/>
<ellipse cx="452.4" cy="811.4" rx="3.9" ry="2.6"/>
<path d="M 441.3 810.3 L 445.6 807.5 456.3 806.6 460.6 811.4"/>
<path d="M 455.4 822.1 L 460.6 819.9 482 811.4 483.3 826.3 460.6 839.2 455.4 839.2"/>
<path d="M 460.6 819.9 L 460.6 839.2"/>
<ellipse cx="465.9" cy="828" rx="2.1" ry="2.4"/>
<ellipse cx="465.9" cy="828" rx="1.1" ry="1.3"/>
<ellipse cx="475.5" cy="823.1" rx="2.1" ry="2.4"/>
<ellipse cx="475.5" cy="823.1" rx="1.1" ry="1.3"/>
<path d="M 483.3 826.3 L 510 811.4"/>
<path d="M 482 811.4 L 510 797.7"/>
<path d="M 483.3 822.1 L 510 807.5"/>
<ellipse cx="473.4" cy="805.4" rx="5.3" ry="3.6" transform="rotate(-10 473.4 805.4)"/>
<path d="M 467 801.7 L 471.3 809.2 479.8 808.1"/>
<path d="M 454.2 798.5 L 462.7 802.8"/>
<path d="M 471.3 791.2 L 479.8 796.8 488.4 794.2"/>
<path d="M 475.5 795.5 L 507.6 801.9 510 800.2" stroke-width="1.8"/>
<path d="M 479.8 787.8 L 510 792.1"/>
<path d="M 479.8 796.8 L 479.8 806 507.6 801.9"/>
<path d="M 460.6 811.4 L 479.8 806.2"/>
<path d="M 488.4 784.8 L 492.7 792.1"/>
<path d="M 369.3 761.6 Q 369.6 759.3 371.3 759.3 L 377.1 759.1 Q 378.9 759.6 379 761.6 L 378.7 764 L 369.3 764.3 Z" stroke-width="1.4"/>
<path d="M 372.8 764 L 373 767.1"/>
<path d="M 376.4 764 L 376.5 767.1"/>
<path d="M 367.8 766 Q 367.7 764.3 369.3 764 M 378.7 763.7 Q 380.8 764.3 380.5 766.3 Q 380 768.3 374.1 768.3 Q 368.3 768.3 367.8 766" stroke-width="1.4"/>
<path d="M 371.8 768.3 L 372.8 780 374.3 782.5 377.1 782.5 378.5 780 377.8 768" stroke-width="1.4"/>
<path d="M 374.7 768.3 L 375.1 782.2"/>
<path d="M 503 736 L 515 728 528.9 730 577.9 742"/>
<path d="M 503 736 L 504 743 510 745 522.9 745"/>
<path d="M 515 728 L 510 735 511 744.2"/>
<path d="M 510 735 L 525.9 735 528.9 730"/>
<path d="M 525.9 735 L 575.9 745 579.9 748.2"/>
<path d="M 529.9 741 L 569.9 748.2"/>
<path d="M 525.9 749 L 563.9 754.9" stroke-width="2"/>
<path d="M 522.9 745 Q 520.9 756.9 508 770.9 Q 494 780.9 480 786.9"/>
<path d="M 525.9 745 Q 523.9 757.9 510 773.9 Q 495 783.9 480 790.1"/>
<path d="M 570.9 750 Q 559.9 764.9 543.9 780.9 Q 521.9 796.9 500 804.9 L 480 810.9"/>
<path d="M 573.9 752.9 Q 561.9 768.9 543.9 785.9 Q 521.9 800.9 500 808.5 L 480 814.9"/>
<path d="M 567.9 750 Q 557.9 761.9 541.9 777.9 Q 519.9 793.3 500 800.9 L 480 806.1"/>
<path d="M 600.8 753.9 L 594.8 761.9 L 573.9 774.9 L 543.9 793.9 L 514 808.9 L 480 826.8"/>
<path d="M 573.9 762.9 L 573.9 774.9"/>
<path d="M 543.9 786.9 L 543.9 794.1"/>
<path d="M 513 805.9 L 514 808.9"/>
<path d="M 597.8 757.9 L 573.9 771.9 L 543.9 790.9 L 514 805.9 L 480 822.8"/>
<ellipse cx="589.4" cy="734" rx="11.6" ry="6"/>
<ellipse cx="589.4" cy="734.4" rx="8.8" ry="4.2"/>
<path d="M 577.9 735 L 578.9 752.1"/>
<path d="M 601 735 L 601 754.1"/>
<path d="M 583.9 738 L 584.3 749"/>
<path d="M 591.8 739 L 591.8 748"/>
<path d="M 581.5 733.4 Q 589.4 727.8 597.8 733.4 Q 595.8 731 589.4 730.6 Q 583.1 731 581.5 733.4 Z" fill="#222" stroke="none"/>
<path d="M 575.1 758.1 L 595.8 748.2 595 762.1"/>
<path d="M 578.9 752.1 L 575.1 758.1"/>
<ellipse cx="580.9" cy="761.3" rx="2.4" ry="2.6"/>
<ellipse cx="580.9" cy="761.3" rx="1.2" ry="1.4"/>
<ellipse cx="589.8" cy="756.9" rx="2.4" ry="2.6"/>
<ellipse cx="589.8" cy="756.9" rx="1.2" ry="1.4"/>
<ellipse cx="540.9" cy="757.9" rx="10.4" ry="5.6" transform="rotate(-8 540.9 757.9)"/>
<ellipse cx="540.9" cy="757.9" rx="8" ry="4" transform="rotate(-8 540.9 757.9)"/>
<ellipse cx="540.9" cy="758.3" rx="5.2" ry="2.4" transform="rotate(-8 540.9 758.3)"/>
<path d="M 532.3 767.3 Q 539.9 771.9 549.9 766.5"/>
<path d="M 530.9 764.9 Q 539.9 769.3 550.9 764.1"/>
<path d="M 527.9 750.9 L 524.9 757.9 529.9 761.9"/>
<path d="M 555.9 753.9 L 559.9 757.9 555.9 762.9"/>
<path d="M 507 771.9 L 534.9 777.9" stroke-width="2.2"/>
<path d="M 534.9 777.9 L 545.9 772.9"/>
<path d="M 492 785.9 L 517.9 793.9" stroke-width="2.2"/>
<path d="M 517.9 793.9 L 527.9 788.9"/>
<path d="M 506 774.9 L 532.3 780.9"/>
<path d="M 491 788.5 L 515.9 796.5"/>
<path d="M 480 793.9 L 498 799.9" stroke-width="2"/>
<path d="M 510 773.9 L 533.9 777.3"/>
<path d="M 587.8 794.9 Q 590.6 792.1 593.4 794.5 L 593 806.1 L 587.8 806.1 Z"/>
<path d="M 589.8 794.5 L 589.8 805.9"/>
<path d="M 584.9 808.1 L 597 806.9 597.4 810.9 593.8 814.9 587.8 814.9 584.9 810.9 584.9 808.1 Z"/>
<ellipse cx="590.8" cy="807.7" rx="6" ry="1.8"/>
<path d="M 587.8 814.9 L 587.8 811.7 584.9 810.9"/>
<path d="M 593.8 814.9 L 593.4 811.7 597.4 810.9"/>
<path d="M 587.8 811.7 L 593.4 811.7"/>
<path d="M 263.5 250.2 L 265.5 247 L 270.5 246.5 L 273.5 249.6 L 273 252.6 L 264 253 Z" stroke-width="1.3"/>
<path d="M 265.5 247 L 266.5 252.6"/>
<path d="M 270.5 246.5 L 270.8 252.6"/>
<path d="M 261.8 252.8 Q 261.6 251 263.5 250.2 M 273.5 249.6 Q 274.6 251 274 253.4 Q 273 255.6 267.8 255.7 Q 262.4 255.6 261.8 252.8" stroke-width="1.3"/>
<path d="M 265 255.7 L 265 290.9 266.5 291.9 270 291.5 270.8 255.7" stroke-width="1.2"/>
<path d="M 268 255.7 L 268 291.5"/>
<path d="M 294.9 288.5 L 296.9 285.4 L 302.9 284.9 L 305.5 288.5 L 304.9 291.5 L 295.5 291.9 Z" stroke-width="1.3"/>
<path d="M 296.9 285.4 L 297.9 291.5"/>
<path d="M 302.9 284.9 L 302.9 291.5"/>
<path d="M 293.3 291.5 Q 293.3 289.4 294.9 288.5 M 305.5 288.5 Q 306.9 289.7 306.5 292.1 Q 305.4 294.3 299.9 294.3 Q 293.9 294.3 293.3 291.5" stroke-width="1.3"/>
<path d="M 296.4 294.5 L 296.4 304.9 297.9 308.5 301.4 307.9 302.4 304.9 302.4 294.5" stroke-width="1.2"/>
<path d="M 299.4 294.5 L 299.4 307.9"/>
<path d="M 503.1 684.4 L 507.2 681.7 514 682.2 515.9 687.1 512.6 691.2 504.5 691.2 503.1 684.4 Z"/>
<path d="M 504 688.2 L 514.8 687.6"/>
<path d="M 507.2 682.2 L 508 687.1"/>
<path d="M 513.4 682.5 L 512.9 687.1"/>
<ellipse cx="509.4" cy="690.4" rx="6" ry="1.6"/>
<path d="M 507.2 692 L 508.6 702.3 512.6 702.8 514 692"/>
<path d="M 510.5 692 L 510.7 702.3"/>
<path d="M 440.6 873.5 Q 443.4 870.7 446.3 873.5 L 446.3 886.4 L 440.6 886.4 Z"/>
<path d="M 443.1 872.8 L 443.1 886.4"/>
<path d="M 436.3 886.7 L 450.6 885.6 451.6 891.7 446.3 896.3 439.2 896.3 435.6 891.7 436.3 886.7 Z"/>
<ellipse cx="443.4" cy="886.7" rx="7.1" ry="1.8"/>
<path d="M 439.2 896.3 L 439.2 892.8 435.6 891.7"/>
<path d="M 446.3 896.3 L 446.3 892.8 451.6 891.7"/>
<path d="M 439.2 892.8 L 446.3 892.8"/>
</g>
<g id="labels" opacity="0.995">
<text class="lbl" x="28.9" y="75">3</text>
<line class="ldr" x1="45.5" y1="75.5" x2="94.9" y2="100.9"/>
<text class="lbl" x="200.3" y="235.6">5</text>
<line class="ldr" x1="216" y1="236" x2="263.5" y2="262.3"/>
<text class="lbl" x="290.2" y="241.6">6</text>
<line class="ldr" x1="295.5" y1="248" x2="296.9" y2="284.9"/>
<text class="lbl" x="146.5" y="278.4">2</text>
<line class="ldr" x1="163" y1="275.6" x2="220.9" y2="299.9"/>
<text class="lbl" x="341.3" y="301.5">10</text>
<line class="ldr" x1="353.4" y1="308" x2="355.8" y2="345.6"/>
<text class="lbl" x="210.7" y="423.7">4</text>
<line class="ldr" x1="239" y1="376" x2="225.6" y2="409.9"/>
<line class="ldr" x1="263.2" y1="388" x2="225.6" y2="411.1"/>
<text class="lbl" x="303.6" y="509.3">11</text>
<line class="ldr" x1="321.8" y1="498.5" x2="353.2" y2="478.5"/>
<text class="lbl" x="349.6" y="583.5">9</text>
<line class="ldr" x1="365.4" y1="569.8" x2="404" y2="543.9"/>
<text class="lbl" x="657.3" y="440.2">8</text>
<line class="ldr" x1="585.6" y1="427.8" x2="652" y2="434.4"/>
<text class="lbl" x="363" y="698.5">11</text>
<line class="ldr" x1="382" y1="689.3" x2="412.9" y2="674.1"/>
<text class="lbl" x="316.6" y="759.8">1</text>
<line class="ldr" x1="332" y1="756.3" x2="367.6" y2="763.6"/>
<text class="lbl" x="558.8" y="861.4">7</text>
<line class="ldr" x1="525.3" y1="806.3" x2="559.3" y2="846.3"/>
<text class="lbl" x="365.2" y="900.6">10</text>
<line class="ldr" x1="392.8" y1="894.2" x2="436.3" y2="890.6"/>
<text class="cpy" x="84.6" y="586.2">© 2013 Polaris Sales Inc.</text>
</g>
<g id="wm" transform="translate(75.05,879.2) rotate(-53.95) scale(1.0953,1)" opacity=".5">
<text class="wm" y="0" fill="#686868" stroke="#686868" stroke-width="2.6" stroke-linejoin="miter"><tspan x="-21.3" textLength="190.4" lengthAdjust="spacingAndGlyphs">www</tspan><tspan x="167.3 190.4 235.7 279.7 301.4 344.5 376.1 398.0 435.5 478.6 510.2 548.0 590.3 620.7 657.7 687.1 730.0 751.9 773.4 815.7 838.9 883.7">.polarisersatzteile.de</tspan></text>
<text class="wm" y="0" fill="#c7c7c7"><tspan x="-21.3" textLength="190.4" lengthAdjust="spacingAndGlyphs">www</tspan><tspan x="167.3 190.4 235.7 279.7 301.4 344.5 376.1 398.0 435.5 478.6 510.2 548.0 590.3 620.7 657.7 687.1 730.0 751.9 773.4 815.7 838.9 883.7">.polarisersatzteile.de</tspan></text>
</g>
</svg>
</body>
</html>
